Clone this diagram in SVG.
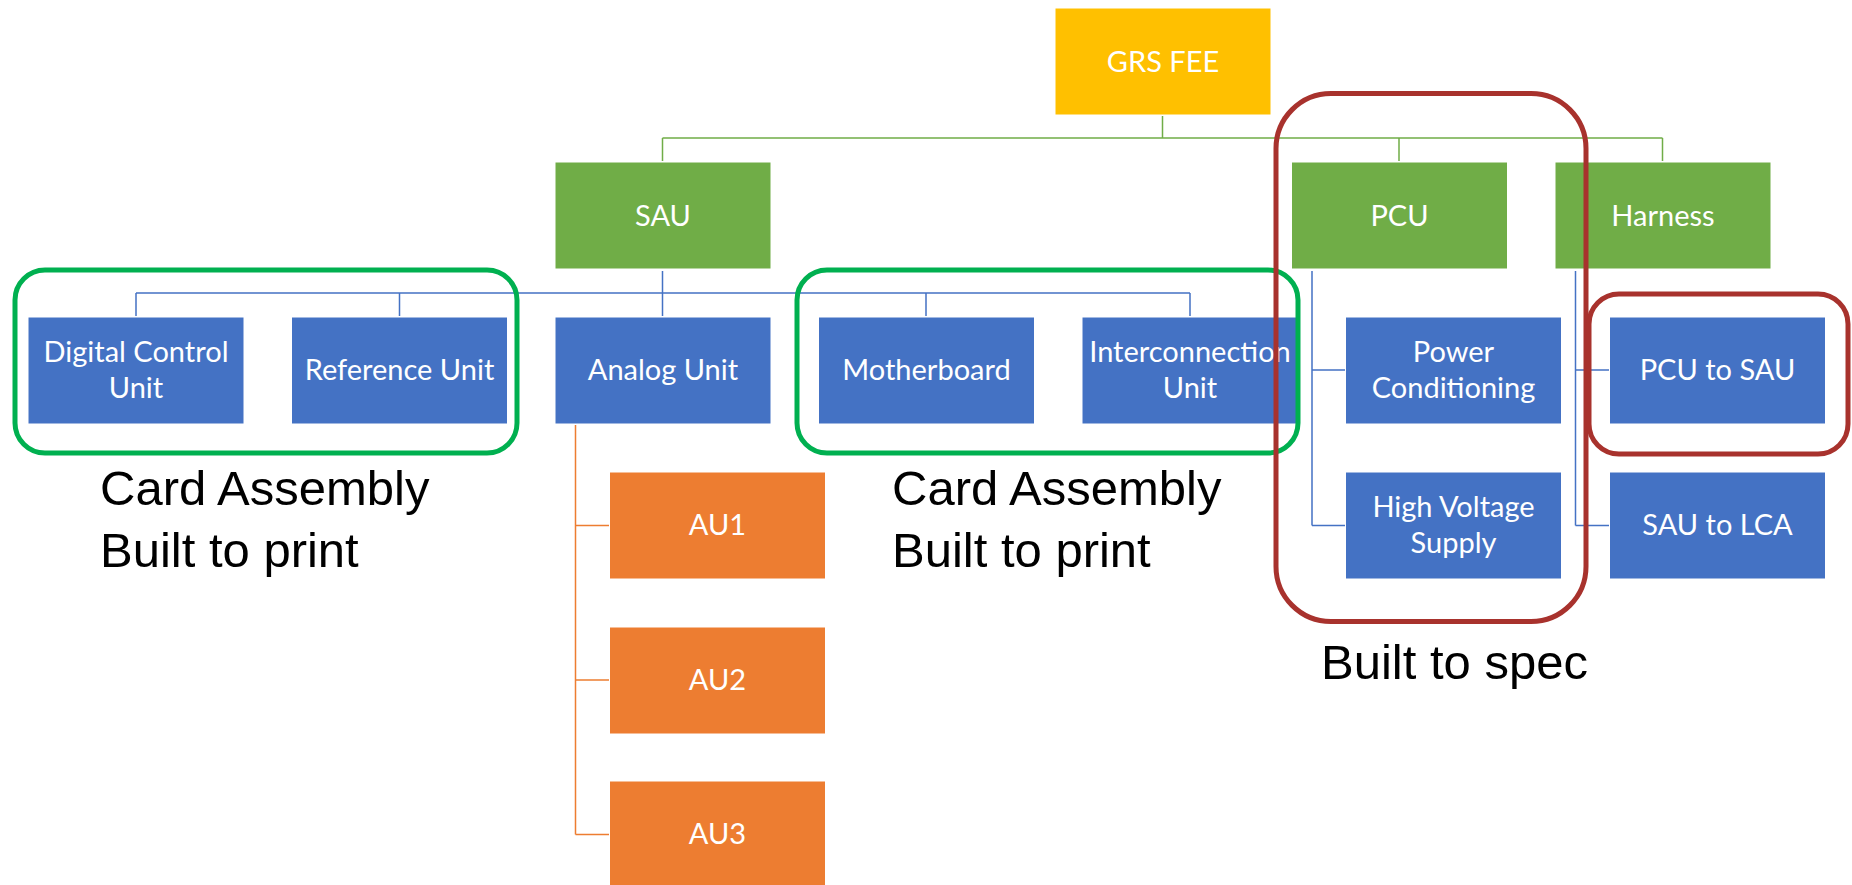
<svg xmlns="http://www.w3.org/2000/svg" width="1852" height="885" viewBox="0 0 1852 885">
  <style>
    .box { stroke: #ffffff; stroke-width: 1; }
    .gold { fill: #FFC000; }
    .green { fill: #70AD47; }
    .blue { fill: #4472C4; }
    .orange { fill: #ED7D31; }
    .lbl { font-family: Lato, "Liberation Sans", sans-serif; font-size: 29px; fill: #ffffff; text-anchor: middle; }
    .note { font-family: "Liberation Sans", Arial, sans-serif; font-size: 49px; fill: #000000; }
    .cg { fill: none; stroke: #70AD47; stroke-width: 1.5; }
    .cb { fill: none; stroke: #4472C4; stroke-width: 1.5; }
    .co { fill: none; stroke: #ED7D31; stroke-width: 1.5; }
    .grp-green { fill: none; stroke: #00B050; stroke-width: 5; }
    .grp-red { fill: none; stroke: #A8322D; stroke-width: 5; }
  </style>
  <rect width="1852" height="885" fill="#ffffff"/>

  <!-- connectors -->
  <g id="connectors">
    <path class="cg" d="M1162.5 116 V138 M662.5 138 H1662.5 M662.5 138 V161 M1399 138 V161 M1662.5 138 V161"/>
    <path class="cb" d="M662.5 271 V316 M136 293 H1190 M136 293 V316 M399.5 293 V316 M926 293 V316 M1190 293 V316"/>
    <path class="cb" d="M1312 271 V525.5 M1312 370 H1345 M1312 525.5 H1345"/>
    <path class="cb" d="M1575.5 271 V525.5 M1575.5 370 H1609 M1575.5 525.5 H1609"/>
    <path class="co" d="M575.5 425 V834.5 M575.5 525.5 H609 M575.5 680 H609 M575.5 834.5 H609"/>
  </g>

  <!-- nodes -->
  <g id="grs-fee"><rect class="box gold" x="1055" y="8" width="216" height="107"/><text class="lbl" x="1163" y="71.5">GRS FEE</text></g>
  <g id="sau"><rect class="box green" x="555" y="162" width="216" height="107"/><text class="lbl" x="663" y="225.5">SAU</text></g>
  <g id="pcu"><rect class="box green" x="1291.5" y="162" width="216" height="107"/><text class="lbl" x="1399.5" y="225.5">PCU</text></g>
  <g id="harness"><rect class="box green" x="1555" y="162" width="216" height="107"/><text class="lbl" x="1663" y="225.5">Harness</text></g>

  <g id="digital-control-unit"><rect class="box blue" x="28" y="317" width="216" height="107"/><text class="lbl" x="136" y="362">Digital Control</text><text class="lbl" x="136" y="398">Unit</text></g>
  <g id="reference-unit"><rect class="box blue" x="291.5" y="317" width="216" height="107"/><text class="lbl" x="399.5" y="380">Reference Unit</text></g>
  <g id="analog-unit"><rect class="box blue" x="555" y="317" width="216" height="107"/><text class="lbl" x="663" y="380">Analog Unit</text></g>
  <g id="motherboard"><rect class="box blue" x="818.5" y="317" width="216" height="107"/><text class="lbl" x="926.5" y="380">Motherboard</text></g>
  <g id="interconnection-unit"><rect class="box blue" x="1082" y="317" width="216" height="107"/><text class="lbl" x="1190" y="362">Interconnection</text><text class="lbl" x="1190" y="398">Unit</text></g>
  <g id="power-conditioning"><rect class="box blue" x="1345.5" y="317" width="216" height="107"/><text class="lbl" x="1453.5" y="362">Power</text><text class="lbl" x="1453.5" y="398">Conditioning</text></g>
  <g id="pcu-to-sau"><rect class="box blue" x="1609.5" y="317" width="216" height="107"/><text class="lbl" x="1717.5" y="380">PCU to SAU</text></g>

  <g id="high-voltage-supply"><rect class="box blue" x="1345.5" y="472" width="216" height="107"/><text class="lbl" x="1453.5" y="517">High Voltage</text><text class="lbl" x="1453.5" y="553">Supply</text></g>
  <g id="sau-to-lca"><rect class="box blue" x="1609.5" y="472" width="216" height="107"/><text class="lbl" x="1717.5" y="535">SAU to LCA</text></g>

  <g id="au1"><rect class="box orange" x="609.5" y="472" width="216" height="107"/><text class="lbl" x="717.5" y="535">AU1</text></g>
  <g id="au2"><rect class="box orange" x="609.5" y="627" width="216" height="107"/><text class="lbl" x="717.5" y="690">AU2</text></g>
  <g id="au3"><rect class="box orange" x="609.5" y="781" width="216" height="107"/><text class="lbl" x="717.5" y="844">AU3</text></g>

  <!-- grouping outlines -->
  <g id="card-assembly-left">
    <rect class="grp-green" x="15" y="270" width="502" height="183" rx="30" ry="30"/>
    <text class="note" x="100" y="505">Card Assembly</text>
    <text class="note" x="100" y="567">Built to print</text>
  </g>
  <g id="card-assembly-right">
    <rect class="grp-green" x="797" y="270" width="501" height="183" rx="30" ry="30"/>
    <text class="note" x="892" y="505">Card Assembly</text>
    <text class="note" x="892" y="567">Built to print</text>
  </g>
  <g id="built-to-spec">
    <rect class="grp-red" x="1276" y="93.5" width="310" height="528" rx="55" ry="55"/>
    <text class="note" x="1321" y="679">Built to spec</text>
  </g>
  <g id="pcu-to-sau-outline">
    <rect class="grp-red" x="1589" y="294" width="259" height="160" rx="30" ry="30"/>
  </g>
</svg>
